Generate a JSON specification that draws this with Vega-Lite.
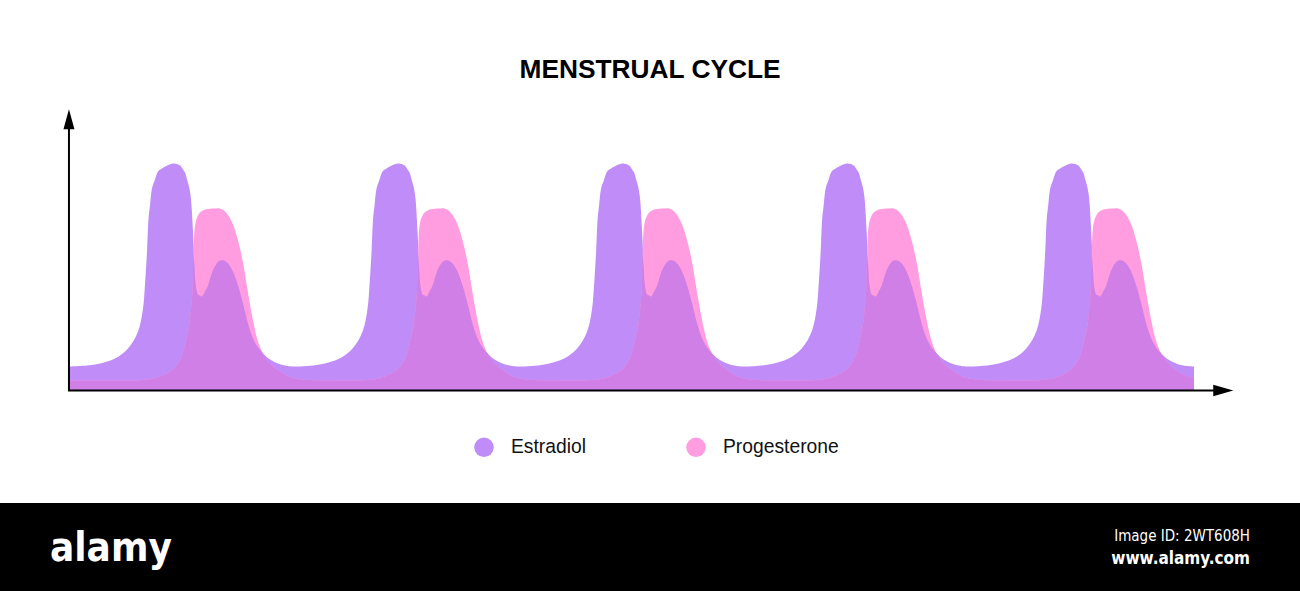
{
  "$schema": "https://vega.github.io/schema/vega-lite/v6.json",
  "background": "white",
  "padding": {"top": 56, "left": 0, "right": 0, "bottom": 0},
  "autosize": {"type": "pad"},
  "spacing": 0,
  "config": {"view": {"stroke": null}, "concat": {"spacing": 0}},
  "vconcat": [
    {
      "width": 1300,
      "height": 400,
      "title": {"text": "MENSTRUAL CYCLE", "font": "Liberation Sans", "fontSize": 26.3, "fontWeight": "bold", "color": "#000000", "anchor": "middle", "offset": 20},
      "data": {"values": [
        {"day":0,"Estradiol":24,"Progesterone":10,"Overlap":10},
        {"day":3.37,"Estradiol":26,"Progesterone":10,"Overlap":10},
        {"day":5.86,"Estradiol":32,"Progesterone":10,"Overlap":10},
        {"day":7.48,"Estradiol":42,"Progesterone":10,"Overlap":10},
        {"day":8.73,"Estradiol":59,"Progesterone":10,"Overlap":10},
        {"day":9.35,"Estradiol":82,"Progesterone":10.5,"Overlap":10.5},
        {"day":9.6,"Estradiol":106,"Progesterone":10.7,"Overlap":10.7},
        {"day":9.85,"Estradiol":139,"Progesterone":10.9,"Overlap":10.9},
        {"day":10.04,"Estradiol":172,"Progesterone":11.1,"Overlap":11.1},
        {"day":10.22,"Estradiol":185,"Progesterone":11.3,"Overlap":11.3},
        {"day":10.47,"Estradiol":202,"Progesterone":11.6,"Overlap":11.6},
        {"day":10.85,"Estradiol":211,"Progesterone":12,"Overlap":12},
        {"day":11.22,"Estradiol":219,"Progesterone":13.2,"Overlap":13.2},
        {"day":11.72,"Estradiol":222,"Progesterone":14.8,"Overlap":14.8},
        {"day":13.09,"Estradiol":227,"Progesterone":20.8,"Overlap":20.8},
        {"day":13.97,"Estradiol":225,"Progesterone":30.6,"Overlap":30.6},
        {"day":14.34,"Estradiol":221,"Progesterone":38,"Overlap":38},
        {"day":14.59,"Estradiol":218,"Progesterone":46,"Overlap":46},
        {"day":14.84,"Estradiol":211,"Progesterone":55,"Overlap":55},
        {"day":15.09,"Estradiol":204,"Progesterone":64,"Overlap":64},
        {"day":15.27,"Estradiol":196,"Progesterone":76,"Overlap":76},
        {"day":15.4,"Estradiol":185,"Progesterone":87,"Overlap":87},
        {"day":15.52,"Estradiol":168,"Progesterone":100,"Overlap":100},
        {"day":15.65,"Estradiol":148,"Progesterone":135,"Overlap":135},
        {"day":15.77,"Estradiol":125,"Progesterone":160,"Overlap":125},
        {"day":15.96,"Estradiol":104,"Progesterone":170,"Overlap":104},
        {"day":16.21,"Estradiol":96,"Progesterone":175,"Overlap":96},
        {"day":16.46,"Estradiol":95,"Progesterone":178,"Overlap":95},
        {"day":16.71,"Estradiol":94,"Progesterone":179.5,"Overlap":94},
        {"day":17.08,"Estradiol":99,"Progesterone":181,"Overlap":99},
        {"day":17.46,"Estradiol":105,"Progesterone":181.4,"Overlap":105},
        {"day":17.96,"Estradiol":118,"Progesterone":182,"Overlap":118},
        {"day":18.45,"Estradiol":126,"Progesterone":182,"Overlap":126},
        {"day":18.95,"Estradiol":130,"Progesterone":182,"Overlap":130},
        {"day":19.45,"Estradiol":130,"Progesterone":180,"Overlap":130},
        {"day":19.95,"Estradiol":127,"Progesterone":175.5,"Overlap":127},
        {"day":20.57,"Estradiol":119,"Progesterone":166,"Overlap":119},
        {"day":21.2,"Estradiol":105,"Progesterone":150,"Overlap":105},
        {"day":21.82,"Estradiol":87,"Progesterone":128,"Overlap":87},
        {"day":22.44,"Estradiol":67,"Progesterone":98,"Overlap":67},
        {"day":23.07,"Estradiol":52,"Progesterone":70,"Overlap":52},
        {"day":23.69,"Estradiol":43,"Progesterone":49,"Overlap":43},
        {"day":24.31,"Estradiol":37,"Progesterone":37,"Overlap":37},
        {"day":25.19,"Estradiol":31,"Progesterone":27,"Overlap":27},
        {"day":26.18,"Estradiol":27,"Progesterone":20.6,"Overlap":20.6},
        {"day":27.06,"Estradiol":25,"Progesterone":16,"Overlap":16},

        {"day":28,"Estradiol":24,"Progesterone":12.5,"Overlap":12.5},
        {"day":31.37,"Estradiol":26,"Progesterone":10,"Overlap":10},
        {"day":33.86,"Estradiol":32,"Progesterone":10,"Overlap":10},
        {"day":35.48,"Estradiol":42,"Progesterone":10,"Overlap":10},
        {"day":36.73,"Estradiol":59,"Progesterone":10,"Overlap":10},
        {"day":37.35,"Estradiol":82,"Progesterone":10.5,"Overlap":10.5},
        {"day":37.6,"Estradiol":106,"Progesterone":10.7,"Overlap":10.7},
        {"day":37.85,"Estradiol":139,"Progesterone":10.9,"Overlap":10.9},
        {"day":38.04,"Estradiol":172,"Progesterone":11.1,"Overlap":11.1},
        {"day":38.22,"Estradiol":185,"Progesterone":11.3,"Overlap":11.3},
        {"day":38.47,"Estradiol":202,"Progesterone":11.6,"Overlap":11.6},
        {"day":38.85,"Estradiol":211,"Progesterone":12,"Overlap":12},
        {"day":39.22,"Estradiol":219,"Progesterone":13.2,"Overlap":13.2},
        {"day":39.72,"Estradiol":222,"Progesterone":14.8,"Overlap":14.8},
        {"day":41.09,"Estradiol":227,"Progesterone":20.8,"Overlap":20.8},
        {"day":41.97,"Estradiol":225,"Progesterone":30.6,"Overlap":30.6},
        {"day":42.34,"Estradiol":221,"Progesterone":38,"Overlap":38},
        {"day":42.59,"Estradiol":218,"Progesterone":46,"Overlap":46},
        {"day":42.84,"Estradiol":211,"Progesterone":55,"Overlap":55},
        {"day":43.09,"Estradiol":204,"Progesterone":64,"Overlap":64},
        {"day":43.27,"Estradiol":196,"Progesterone":76,"Overlap":76},
        {"day":43.4,"Estradiol":185,"Progesterone":87,"Overlap":87},
        {"day":43.52,"Estradiol":168,"Progesterone":100,"Overlap":100},
        {"day":43.65,"Estradiol":148,"Progesterone":135,"Overlap":135},
        {"day":43.77,"Estradiol":125,"Progesterone":160,"Overlap":125},
        {"day":43.96,"Estradiol":104,"Progesterone":170,"Overlap":104},
        {"day":44.21,"Estradiol":96,"Progesterone":175,"Overlap":96},
        {"day":44.46,"Estradiol":95,"Progesterone":178,"Overlap":95},
        {"day":44.71,"Estradiol":94,"Progesterone":179.5,"Overlap":94},
        {"day":45.08,"Estradiol":99,"Progesterone":181,"Overlap":99},
        {"day":45.46,"Estradiol":105,"Progesterone":181.4,"Overlap":105},
        {"day":45.96,"Estradiol":118,"Progesterone":182,"Overlap":118},
        {"day":46.45,"Estradiol":126,"Progesterone":182,"Overlap":126},
        {"day":46.95,"Estradiol":130,"Progesterone":182,"Overlap":130},
        {"day":47.45,"Estradiol":130,"Progesterone":180,"Overlap":130},
        {"day":47.95,"Estradiol":127,"Progesterone":175.5,"Overlap":127},
        {"day":48.57,"Estradiol":119,"Progesterone":166,"Overlap":119},
        {"day":49.2,"Estradiol":105,"Progesterone":150,"Overlap":105},
        {"day":49.82,"Estradiol":87,"Progesterone":128,"Overlap":87},
        {"day":50.44,"Estradiol":67,"Progesterone":98,"Overlap":67},
        {"day":51.07,"Estradiol":52,"Progesterone":70,"Overlap":52},
        {"day":51.69,"Estradiol":43,"Progesterone":49,"Overlap":43},
        {"day":52.31,"Estradiol":37,"Progesterone":37,"Overlap":37},
        {"day":53.19,"Estradiol":31,"Progesterone":27,"Overlap":27},
        {"day":54.18,"Estradiol":27,"Progesterone":20.6,"Overlap":20.6},
        {"day":55.06,"Estradiol":25,"Progesterone":16,"Overlap":16},

        {"day":56,"Estradiol":24,"Progesterone":12.5,"Overlap":12.5},
        {"day":59.37,"Estradiol":26,"Progesterone":10,"Overlap":10},
        {"day":61.86,"Estradiol":32,"Progesterone":10,"Overlap":10},
        {"day":63.48,"Estradiol":42,"Progesterone":10,"Overlap":10},
        {"day":64.73,"Estradiol":59,"Progesterone":10,"Overlap":10},
        {"day":65.35,"Estradiol":82,"Progesterone":10.5,"Overlap":10.5},
        {"day":65.6,"Estradiol":106,"Progesterone":10.7,"Overlap":10.7},
        {"day":65.85,"Estradiol":139,"Progesterone":10.9,"Overlap":10.9},
        {"day":66.04,"Estradiol":172,"Progesterone":11.1,"Overlap":11.1},
        {"day":66.22,"Estradiol":185,"Progesterone":11.3,"Overlap":11.3},
        {"day":66.47,"Estradiol":202,"Progesterone":11.6,"Overlap":11.6},
        {"day":66.85,"Estradiol":211,"Progesterone":12,"Overlap":12},
        {"day":67.22,"Estradiol":219,"Progesterone":13.2,"Overlap":13.2},
        {"day":67.72,"Estradiol":222,"Progesterone":14.8,"Overlap":14.8},
        {"day":69.09,"Estradiol":227,"Progesterone":20.8,"Overlap":20.8},
        {"day":69.97,"Estradiol":225,"Progesterone":30.6,"Overlap":30.6},
        {"day":70.34,"Estradiol":221,"Progesterone":38,"Overlap":38},
        {"day":70.59,"Estradiol":218,"Progesterone":46,"Overlap":46},
        {"day":70.84,"Estradiol":211,"Progesterone":55,"Overlap":55},
        {"day":71.09,"Estradiol":204,"Progesterone":64,"Overlap":64},
        {"day":71.27,"Estradiol":196,"Progesterone":76,"Overlap":76},
        {"day":71.4,"Estradiol":185,"Progesterone":87,"Overlap":87},
        {"day":71.52,"Estradiol":168,"Progesterone":100,"Overlap":100},
        {"day":71.65,"Estradiol":148,"Progesterone":135,"Overlap":135},
        {"day":71.77,"Estradiol":125,"Progesterone":160,"Overlap":125},
        {"day":71.96,"Estradiol":104,"Progesterone":170,"Overlap":104},
        {"day":72.21,"Estradiol":96,"Progesterone":175,"Overlap":96},
        {"day":72.46,"Estradiol":95,"Progesterone":178,"Overlap":95},
        {"day":72.71,"Estradiol":94,"Progesterone":179.5,"Overlap":94},
        {"day":73.08,"Estradiol":99,"Progesterone":181,"Overlap":99},
        {"day":73.46,"Estradiol":105,"Progesterone":181.4,"Overlap":105},
        {"day":73.96,"Estradiol":118,"Progesterone":182,"Overlap":118},
        {"day":74.45,"Estradiol":126,"Progesterone":182,"Overlap":126},
        {"day":74.95,"Estradiol":130,"Progesterone":182,"Overlap":130},
        {"day":75.45,"Estradiol":130,"Progesterone":180,"Overlap":130},
        {"day":75.95,"Estradiol":127,"Progesterone":175.5,"Overlap":127},
        {"day":76.57,"Estradiol":119,"Progesterone":166,"Overlap":119},
        {"day":77.2,"Estradiol":105,"Progesterone":150,"Overlap":105},
        {"day":77.82,"Estradiol":87,"Progesterone":128,"Overlap":87},
        {"day":78.44,"Estradiol":67,"Progesterone":98,"Overlap":67},
        {"day":79.07,"Estradiol":52,"Progesterone":70,"Overlap":52},
        {"day":79.69,"Estradiol":43,"Progesterone":49,"Overlap":43},
        {"day":80.31,"Estradiol":37,"Progesterone":37,"Overlap":37},
        {"day":81.19,"Estradiol":31,"Progesterone":27,"Overlap":27},
        {"day":82.18,"Estradiol":27,"Progesterone":20.6,"Overlap":20.6},
        {"day":83.06,"Estradiol":25,"Progesterone":16,"Overlap":16},

        {"day":84,"Estradiol":24,"Progesterone":12.5,"Overlap":12.5},
        {"day":87.37,"Estradiol":26,"Progesterone":10,"Overlap":10},
        {"day":89.86,"Estradiol":32,"Progesterone":10,"Overlap":10},
        {"day":91.48,"Estradiol":42,"Progesterone":10,"Overlap":10},
        {"day":92.73,"Estradiol":59,"Progesterone":10,"Overlap":10},
        {"day":93.35,"Estradiol":82,"Progesterone":10.5,"Overlap":10.5},
        {"day":93.6,"Estradiol":106,"Progesterone":10.7,"Overlap":10.7},
        {"day":93.85,"Estradiol":139,"Progesterone":10.9,"Overlap":10.9},
        {"day":94.04,"Estradiol":172,"Progesterone":11.1,"Overlap":11.1},
        {"day":94.22,"Estradiol":185,"Progesterone":11.3,"Overlap":11.3},
        {"day":94.47,"Estradiol":202,"Progesterone":11.6,"Overlap":11.6},
        {"day":94.85,"Estradiol":211,"Progesterone":12,"Overlap":12},
        {"day":95.22,"Estradiol":219,"Progesterone":13.2,"Overlap":13.2},
        {"day":95.72,"Estradiol":222,"Progesterone":14.8,"Overlap":14.8},
        {"day":97.09,"Estradiol":227,"Progesterone":20.8,"Overlap":20.8},
        {"day":97.97,"Estradiol":225,"Progesterone":30.6,"Overlap":30.6},
        {"day":98.34,"Estradiol":221,"Progesterone":38,"Overlap":38},
        {"day":98.59,"Estradiol":218,"Progesterone":46,"Overlap":46},
        {"day":98.84,"Estradiol":211,"Progesterone":55,"Overlap":55},
        {"day":99.09,"Estradiol":204,"Progesterone":64,"Overlap":64},
        {"day":99.27,"Estradiol":196,"Progesterone":76,"Overlap":76},
        {"day":99.4,"Estradiol":185,"Progesterone":87,"Overlap":87},
        {"day":99.52,"Estradiol":168,"Progesterone":100,"Overlap":100},
        {"day":99.65,"Estradiol":148,"Progesterone":135,"Overlap":135},
        {"day":99.77,"Estradiol":125,"Progesterone":160,"Overlap":125},
        {"day":99.96,"Estradiol":104,"Progesterone":170,"Overlap":104},
        {"day":100.21,"Estradiol":96,"Progesterone":175,"Overlap":96},
        {"day":100.46,"Estradiol":95,"Progesterone":178,"Overlap":95},
        {"day":100.71,"Estradiol":94,"Progesterone":179.5,"Overlap":94},
        {"day":101.08,"Estradiol":99,"Progesterone":181,"Overlap":99},
        {"day":101.46,"Estradiol":105,"Progesterone":181.4,"Overlap":105},
        {"day":101.96,"Estradiol":118,"Progesterone":182,"Overlap":118},
        {"day":102.45,"Estradiol":126,"Progesterone":182,"Overlap":126},
        {"day":102.95,"Estradiol":130,"Progesterone":182,"Overlap":130},
        {"day":103.45,"Estradiol":130,"Progesterone":180,"Overlap":130},
        {"day":103.95,"Estradiol":127,"Progesterone":175.5,"Overlap":127},
        {"day":104.57,"Estradiol":119,"Progesterone":166,"Overlap":119},
        {"day":105.2,"Estradiol":105,"Progesterone":150,"Overlap":105},
        {"day":105.82,"Estradiol":87,"Progesterone":128,"Overlap":87},
        {"day":106.44,"Estradiol":67,"Progesterone":98,"Overlap":67},
        {"day":107.07,"Estradiol":52,"Progesterone":70,"Overlap":52},
        {"day":107.69,"Estradiol":43,"Progesterone":49,"Overlap":43},
        {"day":108.31,"Estradiol":37,"Progesterone":37,"Overlap":37},
        {"day":109.19,"Estradiol":31,"Progesterone":27,"Overlap":27},
        {"day":110.18,"Estradiol":27,"Progesterone":20.6,"Overlap":20.6},
        {"day":111.06,"Estradiol":25,"Progesterone":16,"Overlap":16},

        {"day":112,"Estradiol":24,"Progesterone":12.5,"Overlap":12.5},
        {"day":115.37,"Estradiol":26,"Progesterone":10,"Overlap":10},
        {"day":117.86,"Estradiol":32,"Progesterone":10,"Overlap":10},
        {"day":119.48,"Estradiol":42,"Progesterone":10,"Overlap":10},
        {"day":120.73,"Estradiol":59,"Progesterone":10,"Overlap":10},
        {"day":121.35,"Estradiol":82,"Progesterone":10.5,"Overlap":10.5},
        {"day":121.6,"Estradiol":106,"Progesterone":10.7,"Overlap":10.7},
        {"day":121.85,"Estradiol":139,"Progesterone":10.9,"Overlap":10.9},
        {"day":122.04,"Estradiol":172,"Progesterone":11.1,"Overlap":11.1},
        {"day":122.22,"Estradiol":185,"Progesterone":11.3,"Overlap":11.3},
        {"day":122.47,"Estradiol":202,"Progesterone":11.6,"Overlap":11.6},
        {"day":122.85,"Estradiol":211,"Progesterone":12,"Overlap":12},
        {"day":123.22,"Estradiol":219,"Progesterone":13.2,"Overlap":13.2},
        {"day":123.72,"Estradiol":222,"Progesterone":14.8,"Overlap":14.8},
        {"day":125.09,"Estradiol":227,"Progesterone":20.8,"Overlap":20.8},
        {"day":125.97,"Estradiol":225,"Progesterone":30.6,"Overlap":30.6},
        {"day":126.34,"Estradiol":221,"Progesterone":38,"Overlap":38},
        {"day":126.59,"Estradiol":218,"Progesterone":46,"Overlap":46},
        {"day":126.84,"Estradiol":211,"Progesterone":55,"Overlap":55},
        {"day":127.09,"Estradiol":204,"Progesterone":64,"Overlap":64},
        {"day":127.27,"Estradiol":196,"Progesterone":76,"Overlap":76},
        {"day":127.4,"Estradiol":185,"Progesterone":87,"Overlap":87},
        {"day":127.52,"Estradiol":168,"Progesterone":100,"Overlap":100},
        {"day":127.65,"Estradiol":148,"Progesterone":135,"Overlap":135},
        {"day":127.77,"Estradiol":125,"Progesterone":160,"Overlap":125},
        {"day":127.96,"Estradiol":104,"Progesterone":170,"Overlap":104},
        {"day":128.21,"Estradiol":96,"Progesterone":175,"Overlap":96},
        {"day":128.46,"Estradiol":95,"Progesterone":178,"Overlap":95},
        {"day":128.71,"Estradiol":94,"Progesterone":179.5,"Overlap":94},
        {"day":129.08,"Estradiol":99,"Progesterone":181,"Overlap":99},
        {"day":129.46,"Estradiol":105,"Progesterone":181.4,"Overlap":105},
        {"day":129.96,"Estradiol":118,"Progesterone":182,"Overlap":118},
        {"day":130.45,"Estradiol":126,"Progesterone":182,"Overlap":126},
        {"day":130.95,"Estradiol":130,"Progesterone":182,"Overlap":130},
        {"day":131.45,"Estradiol":130,"Progesterone":180,"Overlap":130},
        {"day":131.95,"Estradiol":127,"Progesterone":175.5,"Overlap":127},
        {"day":132.57,"Estradiol":119,"Progesterone":166,"Overlap":119},
        {"day":133.2,"Estradiol":105,"Progesterone":150,"Overlap":105},
        {"day":133.82,"Estradiol":87,"Progesterone":128,"Overlap":87},
        {"day":134.44,"Estradiol":67,"Progesterone":98,"Overlap":67},
        {"day":135.07,"Estradiol":52,"Progesterone":70,"Overlap":52},
        {"day":135.69,"Estradiol":43,"Progesterone":49,"Overlap":43},
        {"day":136.31,"Estradiol":37,"Progesterone":37,"Overlap":37},
        {"day":137.19,"Estradiol":31,"Progesterone":27,"Overlap":27},
        {"day":138.18,"Estradiol":27,"Progesterone":20.6,"Overlap":20.6},
        {"day":139.06,"Estradiol":25,"Progesterone":16,"Overlap":16},
        {"day":140.4,"Estradiol":24,"Progesterone":12,"Overlap":12}
      ]},
      "layer": [
        {
          "transform": [{"fold": ["Estradiol", "Progesterone"], "as": ["hormone", "level"]}],
          "mark": {"type": "area", "interpolate": "catmull-rom", "opacity": 1},
          "encoding": {
            "x": {"field": "day", "type": "quantitative", "scale": {"domain": [-8.479, 153.616], "nice": false}, "axis": null},
            "y": {"field": "level", "type": "quantitative", "stack": null, "scale": {"domain": [-112.5, 287.5], "nice": false}, "axis": null},
            "color": {
              "field": "hormone", "type": "nominal",
              "scale": {"domain": ["Estradiol", "Progesterone"], "range": ["#C08CF8", "#FF9DE0"]},
              "legend": {
                "orient": "none", "legendX": 474, "legendY": 334, "direction": "horizontal",
                "title": null, "symbolType": "circle", "symbolSize": 380, "symbolStrokeWidth": 0, "symbolOpacity": 1,
                "labelFont": "Liberation Sans", "labelFontSize": 19.3, "labelColor": "#111111", "labelOffset": 17,
                "columnPadding": 99, "padding": 0
              }
            }
          }
        },
        {
          "mark": {"type": "area", "interpolate": "catmull-rom", "color": "#CF7FE5", "opacity": 1},
          "encoding": {
            "x": {"field": "day", "type": "quantitative", "scale": {"domain": [-8.479, 153.616], "nice": false}, "axis": null},
            "y": {"field": "Overlap", "type": "quantitative", "scale": {"domain": [-112.5, 287.5], "nice": false}, "axis": null}
          }
        },
        {
          "data": {"values": [{}]},
          "mark": {"type": "rule", "color": "#000000", "strokeWidth": 2},
          "encoding": {
            "x": {"datum": 0.12, "type": "quantitative"},
            "y": {"datum": 0, "type": "quantitative"},
            "y2": {"datum": 263}
          }
        },
        {
          "data": {"values": [{}]},
          "mark": {"type": "rule", "color": "#000000", "strokeWidth": 2},
          "encoding": {
            "x": {"datum": 0, "type": "quantitative"},
            "x2": {"datum": 143},
            "y": {"datum": 0, "type": "quantitative"}
          }
        },
        {
          "data": {"values": [{}]},
          "mark": {"type": "point", "shape": "M-0.55,1L0,-1L0.55,1Z", "filled": true, "color": "#000000", "opacity": 1, "size": 400, "strokeWidth": 0},
          "encoding": {
            "x": {"datum": 0.12, "type": "quantitative"},
            "y": {"datum": 271.2, "type": "quantitative"}
          }
        },
        {
          "data": {"values": [{}]},
          "mark": {"type": "point", "shape": "M-1,-0.58L1,0L-1,0.58Z", "filled": true, "color": "#000000", "opacity": 1, "size": 400, "strokeWidth": 0},
          "encoding": {
            "x": {"datum": 144.05, "type": "quantitative"},
            "y": {"datum": 0, "type": "quantitative"}
          }
        }
      ]
    },
    {
      "width": 1300,
      "height": 89,
      "view": {"fill": "#000000", "stroke": null},
      "data": {"values": [
        {"label": "alamy", "side": "left", "kind": "logo"},
        {"label": "Image ID: 2WT608H", "side": "right", "kind": "id"},
        {"label": "www.alamy.com", "side": "right", "kind": "url"}
      ]},
      "encoding": {
        "x": {"field": "side", "type": "nominal", "scale": {"domain": ["left", "right"], "padding": 0}, "axis": null},
        "text": {"field": "label"}
      },
      "layer": [
        {
          "transform": [{"filter": "datum.kind === 'logo'"}],
          "mark": {"type": "text", "align": "left", "baseline": "alphabetic", "dx": 50, "dy": 13, "font": "'DejaVu Sans Condensed', 'Liberation Sans Narrow', 'Liberation Sans', sans-serif", "fontSize": 40, "fontWeight": "bold", "color": "#FFFFFF"}
        },
        {
          "transform": [{"filter": "datum.kind === 'id'"}],
          "mark": {"type": "text", "align": "right", "baseline": "alphabetic", "dx": -50, "dy": -7, "font": "'DejaVu Sans Condensed', 'Liberation Sans Narrow', 'Liberation Sans', sans-serif", "fontSize": 15, "color": "#FFFFFF"}
        },
        {
          "transform": [{"filter": "datum.kind === 'url'"}],
          "mark": {"type": "text", "align": "right", "baseline": "alphabetic", "dx": -50, "dy": 16, "font": "'DejaVu Sans Condensed', 'Liberation Sans Narrow', 'Liberation Sans', sans-serif", "fontSize": 17, "fontWeight": "bold", "color": "#FFFFFF"}
        }
      ]
    }
  ]
}
